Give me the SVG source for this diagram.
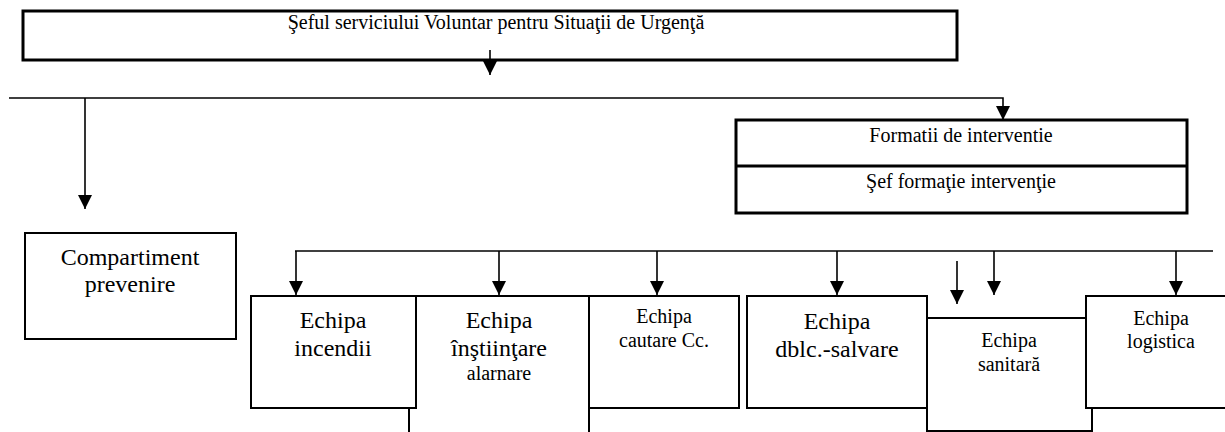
<svg xmlns="http://www.w3.org/2000/svg" width="1225" height="432" viewBox="0 0 1225 432">
<style>
  .lbl { font-family: 'Liberation Serif', 'DejaVu Serif', 'Times New Roman', serif; fill: #000; text-anchor: middle; }
  .thick { fill: #fff; stroke: #000; stroke-width: 3; }
  .box { fill: #fff; stroke: #000; stroke-width: 2; }
  .edge { fill: none; stroke: #000; stroke-width: 2; }
  .conn { fill: none; stroke: #000; stroke-width: 1.6; }
  .t20 { font-size: 20px; }
  .t24 { font-size: 24px; }
</style>
<defs>
  <marker id="ah" markerUnits="userSpaceOnUse" markerWidth="14" markerHeight="14" viewBox="0 0 14 14" refX="14" refY="7" orient="auto">
    <path d="M0,0 L14,7 L0,14 z" fill="#000"/>
  </marker>
</defs>
<rect width="1225" height="432" fill="#fff"/>

<g id="sef-serviciu">
  <rect class="thick" x="23" y="11" width="934" height="49"/>
  <text class="lbl t20" font-family="Liberation Serif, serif" x="496" y="29">Şeful serviciului Voluntar pentru Situaţii de Urgenţă</text>
</g>

<g id="formatii">
  <rect class="thick" x="736" y="120" width="451" height="93"/>
  <line x1="736" y1="166" x2="1187" y2="166" stroke="#000" stroke-width="3"/>
  <text class="lbl t20" font-family="Liberation Serif, serif" x="961" y="142">Formatii de interventie</text>
  <text class="lbl t20" font-family="Liberation Serif, serif" x="961" y="188">Şef formaţie intervenţie</text>
</g>

<g id="compartiment">
  <rect class="box" x="25" y="233" width="211" height="106"/>
  <text class="lbl t24" font-family="Liberation Serif, serif" x="130" y="265">Compartiment</text>
  <text class="lbl t24" font-family="Liberation Serif, serif" x="130" y="292">prevenire</text>
</g>

<g id="echipa-incendii">
  <rect class="box" x="251" y="296" width="165" height="112"/>
  <text class="lbl t24" font-family="Liberation Serif, serif" x="333" y="328">Echipa</text>
  <text class="lbl t24" font-family="Liberation Serif, serif" x="333" y="356">incendii</text>
</g>

<g id="echipa-instiintare">
  <path class="edge" d="M416,296 H589 M409,408 V432 M589,296 V432"/>
  <text class="lbl t24" font-family="Liberation Serif, serif" x="499" y="328">Echipa</text>
  <text class="lbl t24" font-family="Liberation Serif, serif" x="499" y="356">înştiinţare</text>
  <text class="lbl t20" font-family="Liberation Serif, serif" x="499" y="380">alarnare</text>
</g>

<g id="echipa-cautare">
  <rect class="box" x="589" y="296" width="150" height="112"/>
  <text class="lbl t20" font-family="Liberation Serif, serif" x="664" y="323">Echipa</text>
  <text class="lbl t20" font-family="Liberation Serif, serif" x="664" y="347">cautare Cc.</text>
</g>

<g id="echipa-dblc">
  <rect class="box" x="747" y="296" width="180" height="112"/>
  <text class="lbl t24" font-family="Liberation Serif, serif" x="837" y="329">Echipa</text>
  <text class="lbl t24" font-family="Liberation Serif, serif" x="837" y="357">dblc.-salvare</text>
</g>

<g id="echipa-sanitara">
  <path class="edge" d="M927,318 H1086 M927,408 V431 H1092 V408"/>
  <text class="lbl t20" font-family="Liberation Serif, serif" x="1009" y="347">Echipa</text>
  <text class="lbl t20" font-family="Liberation Serif, serif" x="1009" y="371">sanitară</text>
</g>

<g id="echipa-logistica">
  <path class="edge" d="M1228,296 H1086 V408 H1228"/>
  <text class="lbl t20" font-family="Liberation Serif, serif" x="1161" y="325">Echipa</text>
  <text class="lbl t20" font-family="Liberation Serif, serif" x="1161" y="348">logistica</text>
</g>

<g id="connectors">
  <line class="conn" x1="490" y1="50" x2="490" y2="75" marker-end="url(#ah)"/>
  <polyline class="conn" points="9,98 1003,98 1003,120" marker-end="url(#ah)"/>
  <line class="conn" x1="85" y1="98" x2="85" y2="209" marker-end="url(#ah)"/>
  <line class="conn" x1="295" y1="251" x2="1213" y2="251"/>
  <line class="conn" x1="296" y1="251" x2="296" y2="295" marker-end="url(#ah)"/>
  <line class="conn" x1="499" y1="251" x2="499" y2="295" marker-end="url(#ah)"/>
  <line class="conn" x1="657" y1="251" x2="657" y2="295" marker-end="url(#ah)"/>
  <line class="conn" x1="837" y1="251" x2="837" y2="295" marker-end="url(#ah)"/>
  <line class="conn" x1="994" y1="251" x2="994" y2="295" marker-end="url(#ah)"/>
  <line class="conn" x1="1176" y1="251" x2="1176" y2="295" marker-end="url(#ah)"/>
  <line class="conn" x1="957" y1="261" x2="957" y2="304" marker-end="url(#ah)"/>
</g>
</svg>
